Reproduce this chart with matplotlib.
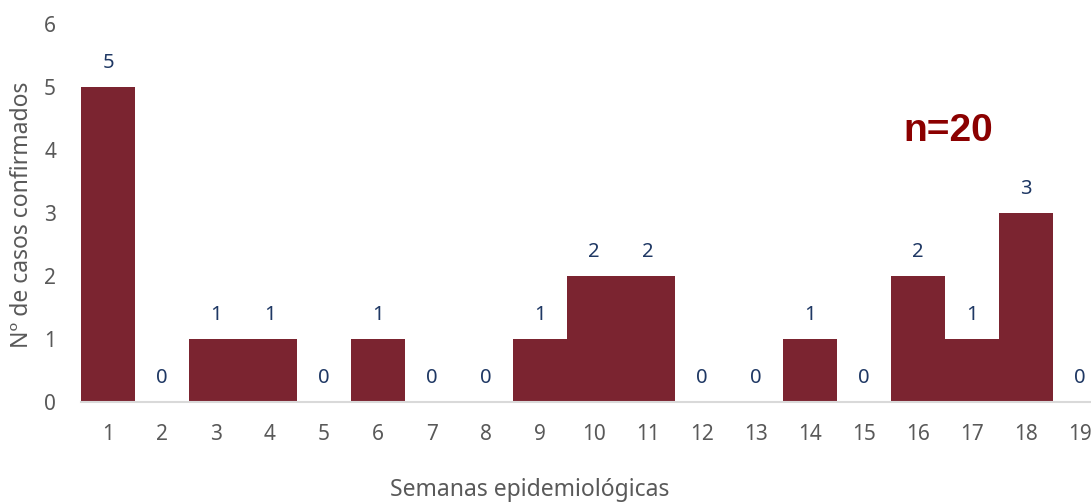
import matplotlib.pyplot as plt
import numpy as np

# weekly confirmed cases by epidemiological week
semanas = list(range(1, 20))
casos = [5, 0, 1, 1, 0, 1, 0, 0, 1, 2, 2, 0, 0, 1, 0, 2, 1, 3, 0]

bar_color = "#7B2430"
label_color = "#1F3864"
text_gray = "#595959"

plt.rcParams["font.family"] = ["Noto Sans", "DejaVu Sans"]

fig = plt.figure(figsize=(10.91, 5.03), dpi=100)
# axes runs a bit past the right edge of the figure
ax = fig.add_axes([81 / 1091, 1 - 402 / 503, 1026 / 1091, 378 / 503])

ax.bar(semanas, casos, width=1.0, color=bar_color, edgecolor="none")

for x, v in zip(semanas, casos):
    ax.annotate(str(v), (x, v), xytext=(0, 10), textcoords="offset points",
                ha="center", va="bottom", color=label_color, fontsize=14.5)

ax.set_xlim(0.5, 19.5)
ax.set_ylim(0, 6)
ax.set_xticks(semanas)
ax.set_yticks(np.arange(0, 7, 1))
ax.tick_params(axis="both", length=0, labelsize=15, colors=text_gray)
ax.tick_params(axis="x", pad=16)
ax.tick_params(axis="y", pad=18)

for side in ["top", "right", "left"]:
    ax.spines[side].set_visible(False)
ax.spines["bottom"].set_color("#D9D9D9")
ax.spines["bottom"].set_linewidth(1.5)

fig.text(22 / 1091, 1 - 215 / 503, "Nº de casos confirmados", rotation=90,
         ha="center", va="center", fontsize=16.5, color=text_gray)
fig.text(530 / 1091, 1 - 490 / 503, "Semanas epidemiológicas",
         ha="center", va="center", fontsize=16.5, color=text_gray)

fig.text(948 / 1091, 1 - 131 / 503, "n=20", ha="center", va="center",
         fontsize=28, fontweight="bold", color="#8B0000",
         family=["Liberation Sans", "DejaVu Sans"])

fig.savefig("out.png", dpi=100)
